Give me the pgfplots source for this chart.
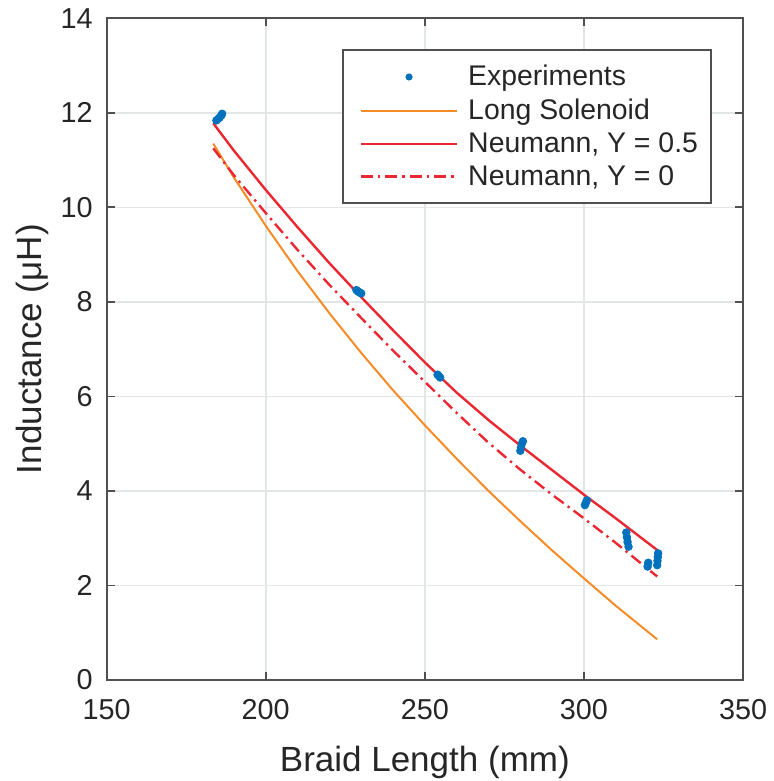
\documentclass[border=0pt]{standalone}
\usepackage{fontspec}
\setmainfont{Liberation Sans}
\usepackage{pgfplots}
\pgfplotsset{compat=1.18}
\definecolor{mblue}{RGB}{0,114,189}
\definecolor{morange}{RGB}{245,140,40}
\definecolor{mred}{RGB}{235,40,50}
\definecolor{axgray}{RGB}{80,80,80}
\definecolor{gridgray}{RGB}{226,230,230}
\begin{document}
\begin{tikzpicture}
\begin{axis}[
  scale only axis, width=318.2pt, height=330.8pt,
  xmin=150, xmax=350, ymin=0, ymax=14,
  xtick={150,200,...,350}, ytick={0,2,...,14},
  grid=major, major grid style={gridgray, line width=0.8pt},
  axis line style={axgray, line width=0.9pt},
  tick style={axgray, line width=0.9pt},
  tick align=inside, major tick length=4pt,
  /pgf/number format/assume math mode=true,
  ticklabel style={font=\fontsize{14.4}{16}\selectfont, text=black!85},
  xticklabel style={yshift=-6pt},
  yticklabel style={xshift=-3.5pt},
  xlabel={Braid Length (mm)}, ylabel={Inductance (μH)},
  label style={font=\fontsize{17.5}{20}\selectfont, text=black!85, inner sep=0pt},
  xlabel style={at={(axis description cs:0.5,-0.139)}, anchor=base},
  ylabel style={at={(axis description cs:-0.1021,0.5)}, anchor=base},
  legend cell align=left,
  legend image code/.code={\draw[#1] (0pt,0pt) -- (48pt,0pt); \path (-4pt,0pt) (51pt,0pt);},
  legend style={at={(1,1)}, anchor=north east, xshift=-15.6pt, yshift=-15.5pt,
    draw=axgray, line width=0.9pt, font=\fontsize{14.2}{16}\selectfont,
    text=black!85, inner xsep=4.5pt, inner ysep=5.5pt, row sep=1pt},
]
\addplot[only marks, mark=*, mark size=1.9pt, color=mblue,
  legend image code/.code={\draw[##1, mark size=1.3pt] plot coordinates {(24pt,0pt)}; \path (-4pt,0pt) (51pt,0pt);}]
  coordinates {
  (184.5,11.84) (185,11.87) (185.5,11.90) (186,11.94) (186.3,11.98)
  (228.5,8.25) (229,8.22) (229.5,8.20) (230,8.18)
  (254,6.46) (254.4,6.43) (254.8,6.40)
  (280,4.85) (280.2,4.92) (280.5,5.00) (280.8,5.05)
  (300.3,3.70) (300.6,3.75) (300.9,3.80)
  (313.3,3.12) (313.5,3.02) (313.7,2.92) (314,2.82)
  (320,2.40) (320.2,2.48)
  (323,2.43) (323.1,2.52) (323.2,2.60) (323.3,2.68)
  };
\addlegendentry{Experiments}
\addplot[color=morange, line width=1pt] coordinates {
  (183.5,11.35) (190,10.63) (200,9.61) (210,8.65) (220,7.76) (230,6.92)
  (240,6.13) (250,5.39) (260,4.68) (270,4.00) (280,3.36) (290,2.74)
  (300,2.15) (310,1.57) (323,0.86)
  };
\addlegendentry{Long Solenoid}
\addplot[color=mred, line width=1.2pt] coordinates {
  (183.5,11.78) (190,11.20) (200,10.37) (210,9.58) (220,8.82) (230,8.10)
  (240,7.40) (250,6.72) (260,6.08) (270,5.50) (280,4.96) (290,4.44)
  (300,3.92) (310,3.42) (323,2.75)
  };
\addlegendentry{Neumann, Y = 0.5}
\addplot[color=mred, line width=1.2pt, dash pattern=on 6pt off 2.5pt on 1.2pt off 2.5pt] coordinates {
  (183.5,11.25) (190,10.68) (200,9.88) (210,9.10) (220,8.36) (230,7.66)
  (240,6.97) (250,6.31) (260,5.65) (270,5.02) (280,4.45) (290,3.92)
  (300,3.42) (310,2.90) (323,2.19)
  };
\addlegendentry{Neumann, Y = 0}
\end{axis}
\path ([xshift=-53.3pt,yshift=-50.5pt]current axis.south west) rectangle ([xshift=15pt,yshift=9.15pt]current axis.north east);
\end{tikzpicture}
\end{document}
